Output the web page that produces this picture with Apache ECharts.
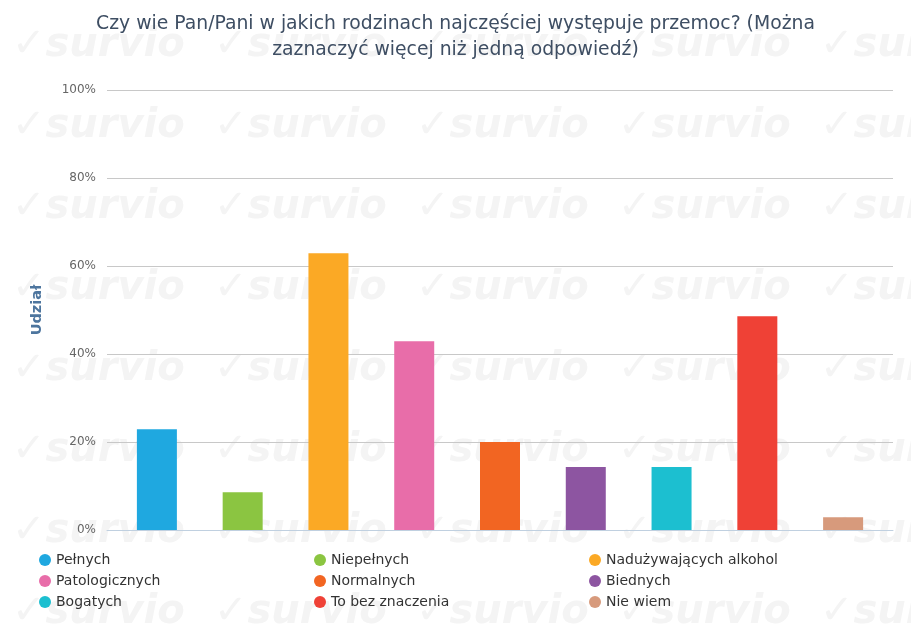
<!DOCTYPE html>
<html>
<head>
<meta charset="utf-8">
<script src="https://cdn.jsdelivr.net/npm/echarts@6/dist/echarts.min.js"></script>
<style>
  html, body { margin: 0; padding: 0; background: #fff; }
  #main { width: 911px; height: 625px; }
</style>
</head>
<body>
<div id="main"></div>
<script>
const categories = ["Pełnych", "Niepełnych", "Nadużywających alkohol", "Patologicznych",
  "Normalnych", "Biednych", "Bogatych", "To bez znaczenia", "Nie wiem"];
const shares = [22.9, 8.6, 62.9, 42.9, 20.0, 14.3, 14.3, 48.6, 2.9];
const colors = ["#1fa8e0", "#8bc541", "#fba925", "#e86da9", "#f26522",
  "#8d55a1", "#1cbfd0", "#ef4136", "#d79a7c"];
const yTicks = [0, 20, 40, 60, 80, 100];

const chart = echarts.init(document.getElementById("main"));

// background watermark, just decoration
const marks = [];
for (let r = 0; r < 8; r++) {
  for (let c = 0; c < 5; c++) {
    marks.push({
      type: "text", left: 12 + c * 202, top: 26 + r * 81, silent: true, z: -10,
      style: { text: "✓survio", fill: "#f4f4f4", font: "italic bold 40px 'DejaVu Sans'" }
    });
  }
}

const series = categories.map((name, i) => ({
  name: name,
  type: "bar",
  xAxisIndex: 1,
  yAxisIndex: 1,
  barWidth: 40,
  barGap: "-100%",
  itemStyle: { color: colors[i] },
  data: shares.map((v, j) => (j === i ? v : "-"))
}));

// legend laid out in three columns, row by row
const legendCols = [0, 1, 2].map(c => categories.filter((_, i) => i % 3 === c));
const legends = legendCols.map((names, c) => ({
  orient: "vertical",
  left: 34 + c * 275,
  top: 548,
  icon: "circle", itemWidth: 12, itemHeight: 12, itemGap: 7,
  textStyle: { fontFamily: "DejaVu Sans", fontSize: 14, color: "#333" },
  data: names
}));

chart.setOption({
  animation: false,
  graphic: marks,
  title: {
    text: "Czy wie Pan/Pani w jakich rodzinach najczęściej występuje przemoc? (Można\nzaznaczyć więcej niż jedną odpowiedź)",
    left: "center",
    top: 6,
    textStyle: { fontFamily: "DejaVu Sans", fontSize: 18.8, fontWeight: "normal", color: "#3e4e63", lineHeight: 26 }
  },
  grid: [
    { left: 107, right: 18, top: 90, bottom: 95 },
    { left: 114, right: 25, top: 90, bottom: 95 }
  ],
  legend: legends,
  xAxis: [
    {
      type: "value", gridIndex: 0, min: 0, max: 1,
      axisLine: { show: true, lineStyle: { color: "#c0d0e0" } },
      axisTick: { show: false }, axisLabel: { show: false }, splitLine: { show: false }
    },
    {
      type: "category", gridIndex: 1,
      data: categories,
      axisLine: { show: false },
      axisTick: { alignWithLabel: true, length: 10, lineStyle: { color: "#c0d0e0" } },
      axisLabel: { show: false }
    }
  ],
  yAxis: [
    {
      type: "value", gridIndex: 0,
      min: yTicks[0], max: yTicks[yTicks.length - 1], interval: 20,
      name: "Udział", nameLocation: "middle", nameGap: 62, nameRotate: 90,
      nameTextStyle: { fontFamily: "DejaVu Sans", fontSize: 14.5, fontWeight: "bold", color: "#4d759e" },
      axisLine: { show: false },
      axisTick: { show: false },
      axisLabel: { formatter: "{value}%", fontFamily: "DejaVu Sans", fontSize: 12, color: "#666", margin: 11 },
      splitLine: { lineStyle: { color: "#c8c8c8" } }
    },
    {
      type: "value", gridIndex: 1,
      min: yTicks[0], max: yTicks[yTicks.length - 1], interval: 20,
      axisLine: { show: false }, axisTick: { show: false },
      axisLabel: { show: false }, splitLine: { show: false }
    }
  ],
  series: series
});
</script>
</body>
</html>
